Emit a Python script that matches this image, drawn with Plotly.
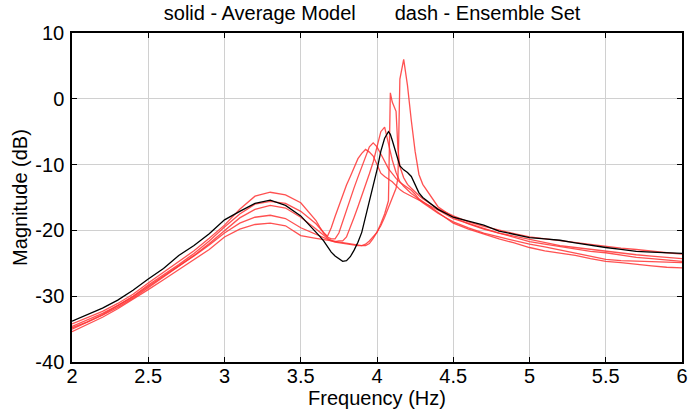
import plotly.graph_objects as go

freq = [2.0, 2.1, 2.2, 2.3, 2.4, 2.5, 2.6, 2.7, 2.8, 2.9, 3.0, 3.1, 3.2, 3.3, 3.4, 3.5,
        3.6, 3.625, 3.65, 3.675, 3.7, 3.725, 3.75, 3.775, 3.8, 3.825, 3.85, 3.875, 3.9,
        3.925, 3.95, 3.975, 4.0, 4.025, 4.05, 4.075, 4.0875, 4.1, 4.125, 4.1375, 4.15,
        4.175, 4.2, 4.225, 4.25, 4.275, 4.3,
        4.4, 4.5, 4.6, 4.7, 4.8, 4.9, 5.0, 5.1, 5.2, 5.3, 5.4, 5.5, 5.6, 5.7, 5.8, 5.9, 6.0]

average_model = [-33.8, -32.8, -31.8, -30.6, -29.1, -27.4, -25.8, -23.8, -22.3, -20.5, -18.4, -17.1, -15.9, -15.4, -16.2, -17.8,
                 -20.2, -20.9, -21.6, -22.4, -23.3, -23.9, -24.3, -24.7, -24.6, -24.0, -23.0, -21.8, -20.3,
                 -18.0, -15.8, -13.5, -10.8, -8.0, -6.0, -5.0, -5.4, -6.3, -8.4, -9.3, -10.2,
                 -10.8, -11.2, -11.8, -13.0, -14.3, -15.0,
                 -16.8, -18.0, -18.6, -19.2, -20.1, -20.6, -21.1, -21.3, -21.5, -21.9, -22.3, -22.6, -22.9, -23.2, -23.3, -23.4, -23.5]

ensemble_1 = [-34.2, -33.3, -32.3, -31.1, -29.7, -28.0, -26.4, -24.8, -23.1, -21.2, -19.2, -16.8, -14.8, -14.2, -14.6, -15.8,
              -18.5, -19.5, -20.4, -20.9, -19.6, -17.9, -16.2, -14.6, -13.1, -11.8, -10.5, -9.1, -8.3,
              -7.7, -8.1, -8.7, -10.0, -11.3, -11.8, -12.2, -12.3, -12.6, -13.2, -13.5, -13.8,
              -14.2, -14.5, -14.8, -15.0, -15.3, -15.6,
              -16.9, -18.2, -19.0, -19.7, -20.4, -21.1, -21.7, -22.1, -22.5, -22.9, -23.2, -23.4, -23.8, -24.1, -24.3, -24.5, -24.7]

ensemble_2 = [-34.6, -33.6, -32.6, -31.4, -30.0, -28.3, -26.8, -25.2, -23.5, -21.6, -19.5, -17.5, -16.0, -15.6, -15.9, -17.1,
              -19.0, -19.7, -20.4, -21.0, -21.3, -21.3, -20.4, -18.6, -16.8, -15.1, -13.5, -11.9, -10.4,
              -8.8, -7.3, -6.7, -7.3, -8.4, -9.6, -10.6, -11.0, -11.4, -12.1, -12.4, -12.7,
              -13.1, -13.5, -13.9, -14.5, -15.2, -15.6,
              -17.2, -18.9, -19.8, -20.6, -21.3, -21.9, -22.6, -23.1, -23.4, -23.8, -24.3, -24.7, -24.9, -25.2, -25.4, -25.6, -25.7]

ensemble_3 = [-35.0, -34.0, -32.9, -31.7, -30.3, -28.7, -27.1, -25.5, -23.8, -22.0, -20.0, -18.1, -16.8, -16.2, -16.6, -18.0,
              -19.8, -20.3, -20.8, -21.2, -21.5, -21.7, -21.6, -21.6, -21.0, -19.6, -18.0, -16.4, -14.8,
              -13.1, -11.4, -9.6, -7.5, -5.0, -4.3, -6.8, -8.2, -9.3, -11.2, -12.0, -12.6,
              -13.3, -13.9, -14.4, -14.8, -15.3, -15.8,
              -17.4, -18.7, -19.6, -20.4, -21.0, -21.6, -22.1, -22.5, -23.0, -23.5, -24.0, -24.4, -24.6, -24.7, -24.8, -24.9, -24.9]

ensemble_4 = [-34.8, -33.9, -32.8, -31.5, -30.1, -28.5, -27.0, -25.4, -23.9, -22.2, -20.4, -18.9, -18.0, -17.7, -18.2, -19.6,
              -20.6, -20.9, -21.2, -21.4, -21.6, -21.8, -21.9, -22.0, -22.1, -22.2, -22.2, -22.3, -22.3,
              -22.1, -21.6, -21.0, -20.3, -19.0, -17.5, -15.5, 0.9, -0.5, -1.9, -7.7, -10.3,
              -12.0, -13.0, -13.6, -14.2, -14.7, -15.2,
              -16.7, -17.8, -18.7, -19.4, -20.0, -20.5, -21.0, -21.3, -21.6, -21.9, -22.2, -22.4, -22.7, -22.9, -23.2, -23.4, -23.6]

ensemble_5 = [-35.4, -34.3, -33.2, -31.9, -30.5, -29.0, -27.5, -26.0, -24.5, -22.9, -21.0, -19.8, -19.1, -18.9, -19.3, -20.8,
              -21.2, -21.3, -21.4, -21.5, -21.6, -21.7, -21.8, -21.9, -22.0, -22.0, -22.1, -22.2, -22.3,
              -22.3, -22.0, -21.2, -20.3, -19.3, -18.0, -16.6, -15.8, -15.0, -13.6, -12.0, 3.0,
              6.0, 2.0, -3.3, -8.0, -11.5, -13.0,
              -16.4, -18.0, -19.0, -19.8, -20.4, -20.9, -21.4, -21.9, -22.3, -22.6, -22.9, -23.1, -23.4, -23.7, -23.9, -24.1, -24.3]

ensemble = [ensemble_1, ensemble_2, ensemble_3, ensemble_4, ensemble_5]

x_ticks = [2, 2.5, 3, 3.5, 4, 4.5, 5, 5.5, 6]
x_tick_labels = ["2", "2.5", "3", "3.5", "4", "4.5", "5", "5.5", "6"]
y_ticks = [-40, -30, -20, -10, 0, 10]
y_tick_labels = ["-40", "-30", "-20", "-10", "0", "10"]

title_text = "solid - Average Model" + "\u00a0" * 7 + "dash - Ensemble Set"

fig = go.Figure()
for series in ensemble:
    fig.add_trace(go.Scatter(x=freq, y=series, mode="lines",
                             line=dict(color="rgba(255,50,50,0.85)", width=1.3),
                             showlegend=False, hoverinfo="skip"))
fig.add_trace(go.Scatter(x=freq, y=average_model, mode="lines",
                         line=dict(color="black", width=1.3),
                         showlegend=False, hoverinfo="skip"))

font_family = "Liberation Sans, Arial, sans-serif"
fsize = 20
axis_common = dict(showline=True, linecolor="black", linewidth=1.5, mirror="ticks",
                   ticks="inside", ticklen=5, tickcolor="black", tickwidth=1,
                   showgrid=True, gridcolor="#d0d0d0", gridwidth=1, zeroline=False,
                   automargin=False,
                   tickfont=dict(family=font_family, size=fsize, color="black"))

fig.update_layout(
    width=689, height=415,
    margin=dict(l=72, r=7, t=33, b=53),
    paper_bgcolor="white", plot_bgcolor="white",
    title=dict(text=title_text, x=0.54, xanchor="center", y=0.969, yanchor="middle",
               font=dict(family=font_family, size=fsize, color="black")),
    xaxis=dict(range=[2, 6], tickvals=x_ticks, ticktext=x_tick_labels,
               ticklabelstandoff=-5,
               title=dict(text="Frequency (Hz)", standoff=2,
                          font=dict(family=font_family, size=fsize, color="black")),
               **axis_common),
    yaxis=dict(range=[-40, 10], tickvals=y_ticks, ticktext=y_tick_labels,
               ticklabelstandoff=2,
               title=dict(text="Magnitude (dB)", standoff=2,
                          font=dict(family=font_family, size=fsize, color="black")),
               **axis_common),
)

fig.write_html("out.html", config={"displayModeBar": False},
               post_script="document.body.style.margin='0px';")
